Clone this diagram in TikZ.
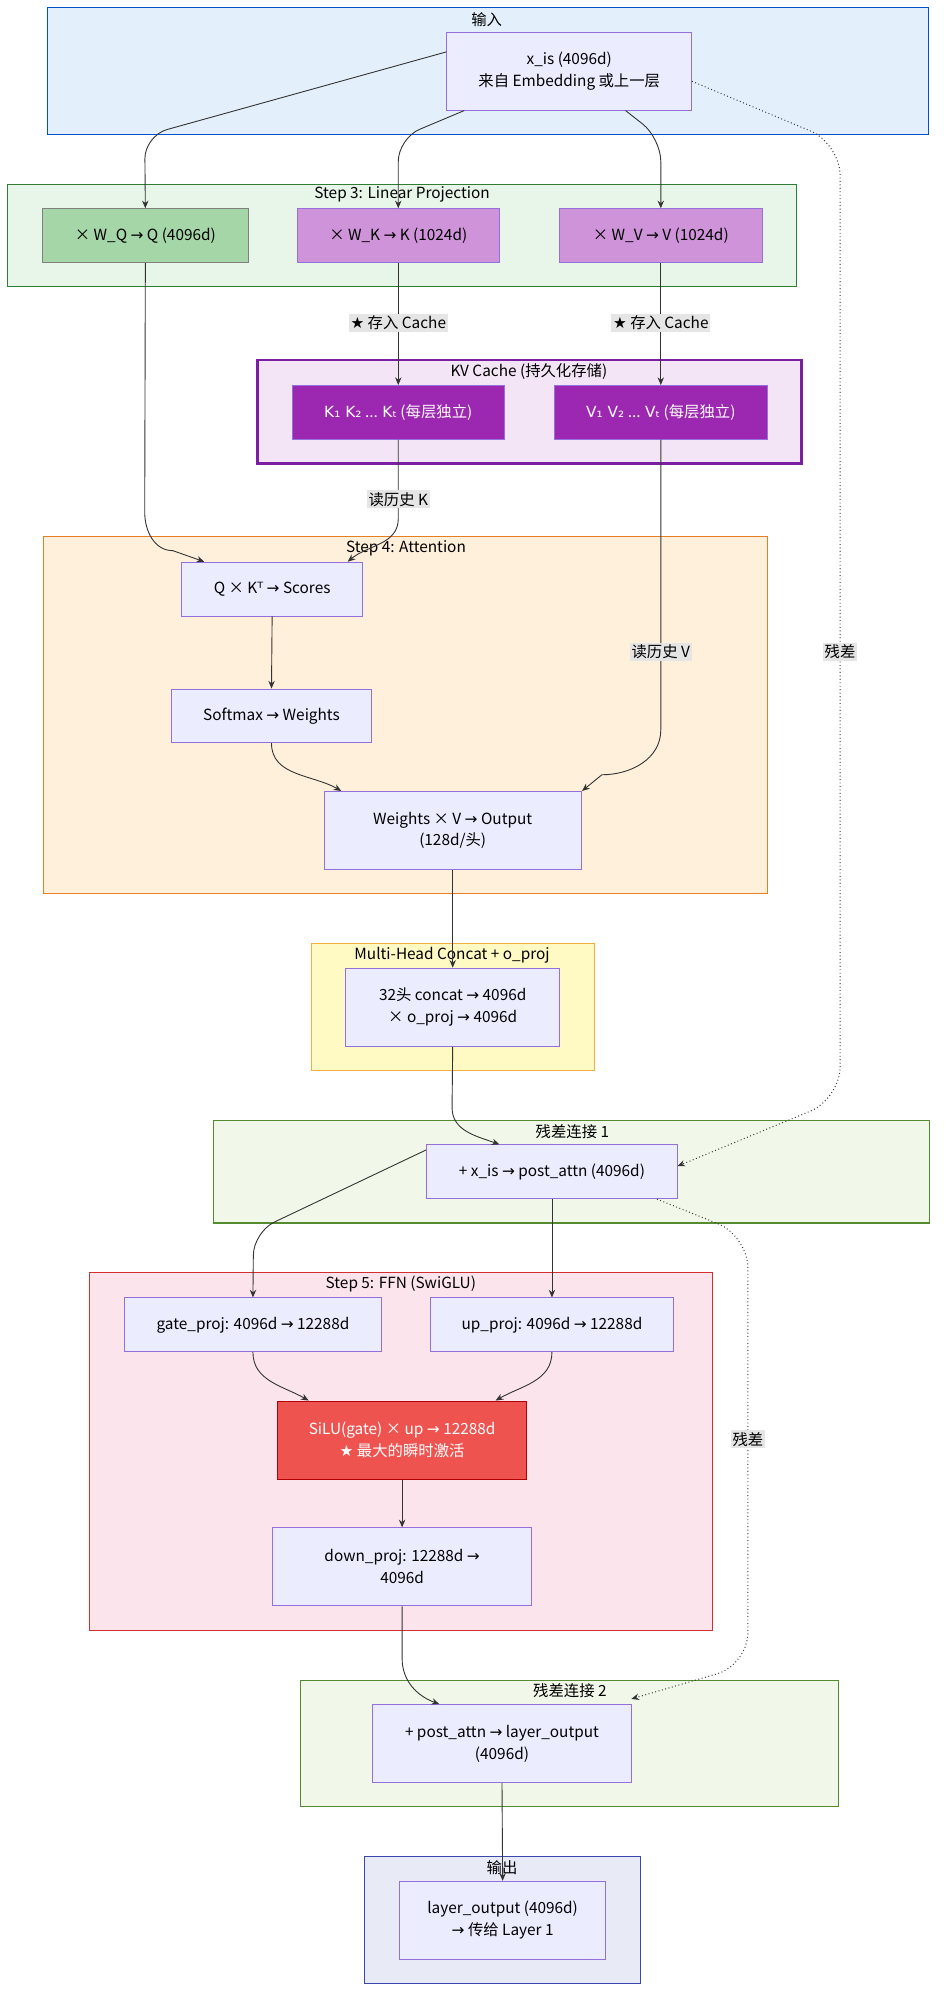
\documentclass[tikz,border=0pt]{standalone}
\usepackage{fontspec}
\setmainfont{Noto Sans CJK SC}
\newfontfamily\symf{DejaVu Sans}
\usetikzlibrary{arrows.meta}
\begin{document}
\begin{tikzpicture}[x=1pt,y=-1pt,
  font=\fontsize{12}{17}\selectfont,
  grp/.style={draw, line width=0.8pt},
  nd/.style={draw=#1, fill=ndfill, line width=0.7pt, align=center, inner sep=0pt},
  nd/.default={ndborder},
  ar/.style={draw=black!80, line width=0.7pt, -{Stealth[length=6pt,width=5pt]}},
  dar/.style={ar, dotted, line width=0.8pt},
  lab/.style={fill=black!10, inner sep=1.5pt},
  ttl/.style={inner sep=0pt}]
\definecolor{ndfill}{HTML}{ECECFF}
\definecolor{ndborder}{HTML}{9370DB}
\useasboundingbox (0,0) rectangle (740,1568);
\fill[white] (0,0) rectangle (740,1568);
% groups
\draw[grp, draw=blue!60!cyan!80!black, fill={rgb,255:red,227;green,240;blue,251}] (37,6) rectangle (725,105);
\node[ttl] (tin) at (380,15) {输入};
\draw[grp, draw={rgb,255:red,46;green,125;blue,50}, fill={rgb,255:red,232;green,245;blue,233}] (6,144) rectangle (622,224);
\node[ttl] (t3) at (314,152) {Step 3: Linear Projection};
\draw[draw={rgb,255:red,123;green,31;blue,162}, line width=2pt, fill={rgb,255:red,243;green,229;blue,245}] (201,281) rectangle (626,362);
\node[ttl] (tkv) at (413,290) {KV Cache (持久化存储)};
\draw[grp, draw={rgb,255:red,230;green,126;blue,34}, fill={rgb,255:red,255;green,240;blue,220}] (34,419) rectangle (599,698);
\node[ttl] (t4) at (317,428) {Step 4: Attention};
\draw[grp, draw={rgb,255:red,240;green,176;blue,64}, fill={rgb,255:red,255;green,249;blue,196}] (243,737) rectangle (464,836);
\node[ttl] (tc) at (353,746) {Multi-Head Concat + o\_proj};
\draw[grp, draw={rgb,255:red,85;green,139;blue,47}, fill={rgb,255:red,241;green,248;blue,233}] (167,875) rectangle (726,955);
\node[ttl] (tr1) at (447,884) {残差连接 1};
\draw[grp, draw={rgb,255:red,211;green,47;blue,47}, fill={rgb,255:red,252;green,228;blue,236}] (70,994) rectangle (556,1273);
\node[ttl] (t5) at (313,1003) {Step 5: FFN (SwiGLU)};
\draw[grp, draw={rgb,255:red,85;green,139;blue,47}, fill={rgb,255:red,241;green,248;blue,233}] (235,1312) rectangle (655,1411);
\node[ttl] (tr2) at (445,1320) {残差连接 2};
\draw[grp, draw={rgb,255:red,57;green,73;blue,171}, fill={rgb,255:red,232;green,234;blue,246}] (285,1450) rectangle (500,1549);
\node[ttl] (tout) at (392,1458) {输出};
% nodes
\node[nd, minimum width=191, minimum height=61] (xis) at (444.5,55.5) {x\_is (4096d)\\来自 Embedding 或上一层};
\node[nd=gray, fill={rgb,255:red,165;green,214;blue,167}, minimum width=161, minimum height=42] (q) at (113.5,184) {× W\_Q {\symf →} Q (4096d)};
\node[nd, fill={rgb,255:red,206;green,147;blue,216}, minimum width=158, minimum height=42] (k) at (311,184) {× W\_K {\symf →} K (1024d)};
\node[nd, fill={rgb,255:red,206;green,147;blue,216}, minimum width=158, minimum height=42] (v) at (516,184) {× W\_V {\symf →} V (1024d)};
\node[nd, fill={rgb,255:red,156;green,39;blue,176}, text=white, minimum width=166, minimum height=42] (kh) at (311,322) {{\symf K₁ K₂} ... {\symf Kₜ} (每层独立)};
\node[nd, fill={rgb,255:red,156;green,39;blue,176}, text=white, minimum width=166, minimum height=42] (vh) at (516,322) {{\symf V₁ V₂} ... {\symf Vₜ} (每层独立)};
\node[nd, minimum width=141, minimum height=42] (sc) at (212.5,460) {Q × K{\symf ᵀ} {\symf →} Scores};
\node[nd, minimum width=156, minimum height=42] (sm) at (212,559) {Softmax {\symf →} Weights};
\node[nd, minimum width=201, minimum height=61] (wo) at (353.5,648.5) {Weights × V {\symf →} Output\\(128d/头)};
\node[nd, minimum width=167, minimum height=61] (cc) at (353.5,786.5) {32头 concat {\symf →} 4096d\\× o\_proj {\symf →} 4096d};
\node[nd, minimum width=196, minimum height=42] (r1) at (431,915) {+ x\_is {\symf →} post\_attn (4096d)};
\node[nd, minimum width=201, minimum height=42] (gp) at (197.5,1034.5) {gate\_proj: 4096d {\symf →} 12288d};
\node[nd, minimum width=190, minimum height=42] (up) at (431,1034.5) {up\_proj: 4096d {\symf →} 12288d};
\node[nd=red!70!black, fill={rgb,255:red,239;green,83;blue,80}, text=white, minimum width=194, minimum height=61] (si) at (314,1124.5) {SiLU(gate) × up {\symf →} 12288d\\{\symf ★} 最大的瞬时激活};
\node[nd, minimum width=202, minimum height=61] (dn) at (314,1223.5) {down\_proj: 12288d {\symf →}\\4096d};
\node[nd, minimum width=202, minimum height=61] (r2) at (392,1361.5) {+ post\_attn {\symf →} layer\_output\\(4096d)};
\node[nd, minimum width=161, minimum height=61] (lo) at (392.5,1499.5) {layer\_output (4096d)\\{\symf →} 传给 Layer 1};
% edges
\draw[ar, rounded corners=18] ([yshift=15]xis.west) -- (113,106) -- (q.north);
\draw[ar, rounded corners=18] ([xshift=-82]xis.south) -- (311,108) -- (k.north);
\draw[ar, rounded corners=18] ([xshift=44]xis.south) -- (516,108) -- (v.north);
\draw[dar, rounded corners=25] ([yshift=-8]xis.east) -- (656,112) -- (656,858) -- ([xshift=98,yshift=-17]r1.north);
\node[lab] (lres1) at (656,509) {残差};
\draw[ar] (k.south) -- (kh.north);
\node[lab] (lk) at (311,252) {{\symf ★} 存入 Cache};
\draw[ar] (v.south) -- (vh.north);
\node[lab] (lv) at (516,252) {{\symf ★} 存入 Cache};
\draw[ar] (q.south) -- (113,400) to[out=-90,in=180] (135,430) -- ([xshift=-53]sc.north);
\draw[ar] (kh.south) -- (311,405) to[out=-90,in=40] ([xshift=59]sc.north);
\node[lab] (lkr) at (311,390) {读历史 K};
\draw[ar] (vh.south) -- (516,570) to[out=-90,in=0] (470,605) -- ([xshift=101]wo.north);
\node[lab] (lvr) at (516,509) {读历史 V};
\draw[ar] (sc.south) -- (sm.north);
\draw[ar] (sm.south) to[out=-90,in=150] ([xshift=-87]wo.north);
\draw[ar] (wo.south) -- (cc.north);
\draw[ar] (cc.south) -- (353,865) to[out=-90,in=160] ([xshift=-41]r1.north);
\draw[ar, rounded corners=18] ([yshift=17]r1.west) -- (198,962) -- (gp.north);
\draw[ar] (r1.south) -- (up.north);
\draw[dar, rounded corners=25] ([xshift=82]r1.south) -- (584,965) -- (584,1300) -- ([xshift=101,yshift=4]r2.north);
\node[lab] (lres2) at (584,1124) {残差};
\draw[ar] (gp.south) to[out=-90,in=150] ([xshift=-73]si.north);
\draw[ar] (up.south) to[out=-90,in=30] ([xshift=73]si.north);
\draw[ar] (si.south) -- (dn.north);
\draw[ar] (dn.south) -- (314,1295) to[out=-90,in=160] ([xshift=-49]r2.north);
\draw[ar] (r2.south) -- (lo.north);
\end{tikzpicture}
\end{document}
